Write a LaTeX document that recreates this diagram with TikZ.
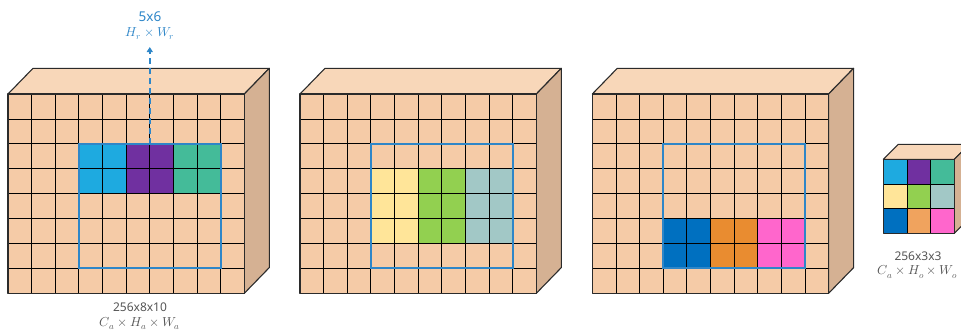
\documentclass[tikz,border=0pt]{standalone}
\usepackage{fontspec}
\usepackage{unicode-math}
\setmainfont{Noto Sans}
\setmathfont{Latin Modern Math}
\usetikzlibrary{arrows.meta}
\definecolor{frontc}{HTML}{F5CBA7}
\definecolor{topc}{HTML}{F8D7B9}
\definecolor{sidec}{HTML}{D5B193}
\definecolor{edgec}{HTML}{2B2B2B}
\definecolor{winc}{HTML}{2E86C8}
\definecolor{labc}{HTML}{555555}
\definecolor{cA}{HTML}{1EAAE0}
\definecolor{cB}{HTML}{7030A0}
\definecolor{cC}{HTML}{44BB99}
\definecolor{cD}{HTML}{FFE599}
\definecolor{cE}{HTML}{92D050}
\definecolor{cF}{HTML}{A2C8C6}
\definecolor{cG}{HTML}{0070C0}
\definecolor{cH}{HTML}{E98C30}
\definecolor{cHl}{HTML}{F0A35E}
\definecolor{cI}{HTML}{FF66CC}
\tikzset{
  facebox/.style={draw=edgec,line width=1.1pt,line join=round},
  gridline/.style={draw=black,line width=0.8pt},
  winbox/.style={draw=winc,line width=1.8pt},
  dimlabel/.style={text=labc,font=\fontsize{12}{14}\selectfont,inner sep=0pt},
  mathlabel/.style={text=labc,font=\fontsize{13}{15}\selectfont,inner sep=0pt},
  toplabel/.style={text=winc,font=\fontsize{13.5}{15}\selectfont\bfseries,inner sep=0pt},
}
\def\cw{23.63}
\def\ch{24.91}
% #1 x-shift, #2 first colored row, #3 number of rows, #4 #5 #6 colours
\newcommand{\drawbigcube}[6]{%
\begin{scope}[xshift=#1pt]
  \filldraw[facebox,fill=topc] (0,94) -- (25,68.3) -- (261.3,68.3) -- (236.3,94) -- cycle;
  \filldraw[facebox,fill=sidec] (236.3,94) -- (261.3,68.3) -- (261.3,267.6) -- (236.3,293.3) -- cycle;
  \fill[frontc] (0,94) rectangle (236.3,293.3);
  \fill[#4] ({3*\cw},{94+#2*\ch}) rectangle ({5*\cw},{94+(#2+#3)*\ch});
  \fill[#5] ({5*\cw},{94+#2*\ch}) rectangle ({7*\cw},{94+(#2+#3)*\ch});
  \fill[#6] ({7*\cw},{94+#2*\ch}) rectangle ({9*\cw},{94+(#2+#3)*\ch});
  \foreach \i in {1,...,9} \draw[gridline] ({\i*\cw},94) -- ({\i*\cw},293.3);
  \foreach \j in {1,...,7} \draw[gridline] (0,{94+\j*\ch}) -- (236.3,{94+\j*\ch});
  \draw[facebox] (0,94) rectangle (236.3,293.3);
  \draw[winbox] ({3*\cw},{94+2*\ch}) rectangle ({9*\cw},{94+7*\ch});
\end{scope}}
\begin{document}
\begin{tikzpicture}[x=1pt,y=-1pt]
\useasboundingbox (0,0) rectangle (961,335);
\clip (0,0) rectangle (961,335);

\drawbigcube{8}{2}{2}{cA}{cB}{cC}
\drawbigcube{300}{3}{3}{cD}{cE}{cF}
\drawbigcube{592.3}{5}{2}{cG}{cH}{cI}

% arrow from the window up to the label
\coordinate (arrS) at ({8+6*\cw},{94+2*\ch});
\coordinate (arrE) at ({8+6*\cw},47);
\draw[draw=winc,line width=1.8pt,dash pattern=on 6pt off 4pt,-{Triangle[length=5pt,width=6pt]}] (arrS) -- (arrE);
\node[toplabel] (topdim) at (150,16.5) {5x6};
\node[text=winc,font=\fontsize{13}{15}\selectfont,inner sep=0pt] (topmath) at (150,34) {$H_r\times W_r$};

% labels under first cube
\node[dimlabel] (dimA) at (140,307) {256x8x10};
\node[mathlabel] (mathA) at (140,323.5) {$C_a\times H_a\times W_a$};

% small output cube
\begin{scope}
  \def\sw{23.67}
  \def\sh{24.67}
  \filldraw[facebox,fill=topc] (883.3,159.3) -- (898.3,144.3) -- (969.3,144.3) -- (954.3,159.3) -- cycle;
  \filldraw[facebox,fill=sidec] (954.3,159.3) -- (969.3,144.3) -- (969.3,218.3) -- (954.3,233.3) -- cycle;
  \foreach \c [count=\k from 0] in {cA,cB,cC,cD,cE,cF,cG,cHl,cI} {
    \pgfmathtruncatemacro{\ci}{mod(\k,3)}
    \pgfmathtruncatemacro{\ri}{div(\k,3)}
    \fill[\c] ({883.3+\ci*\sw},{159.3+\ri*\sh}) rectangle ({883.3+(\ci+1)*\sw},{159.3+(\ri+1)*\sh});
  }
  \foreach \i in {1,2} \draw[gridline] ({883.3+\i*\sw},159.3) -- ({883.3+\i*\sw},233.3);
  \foreach \j in {1,2} \draw[gridline] (883.3,{159.3+\j*\sh}) -- (954.3,{159.3+\j*\sh});
  \draw[facebox] (883.3,159.3) rectangle (954.3,233.3);
\end{scope}
\node[dimlabel] (dimB) at (918,256.5) {256x3x3};
\node[mathlabel] (mathB) at (917.5,272) {$C_a\times H_o\times W_o$};
\end{tikzpicture}
\end{document}
